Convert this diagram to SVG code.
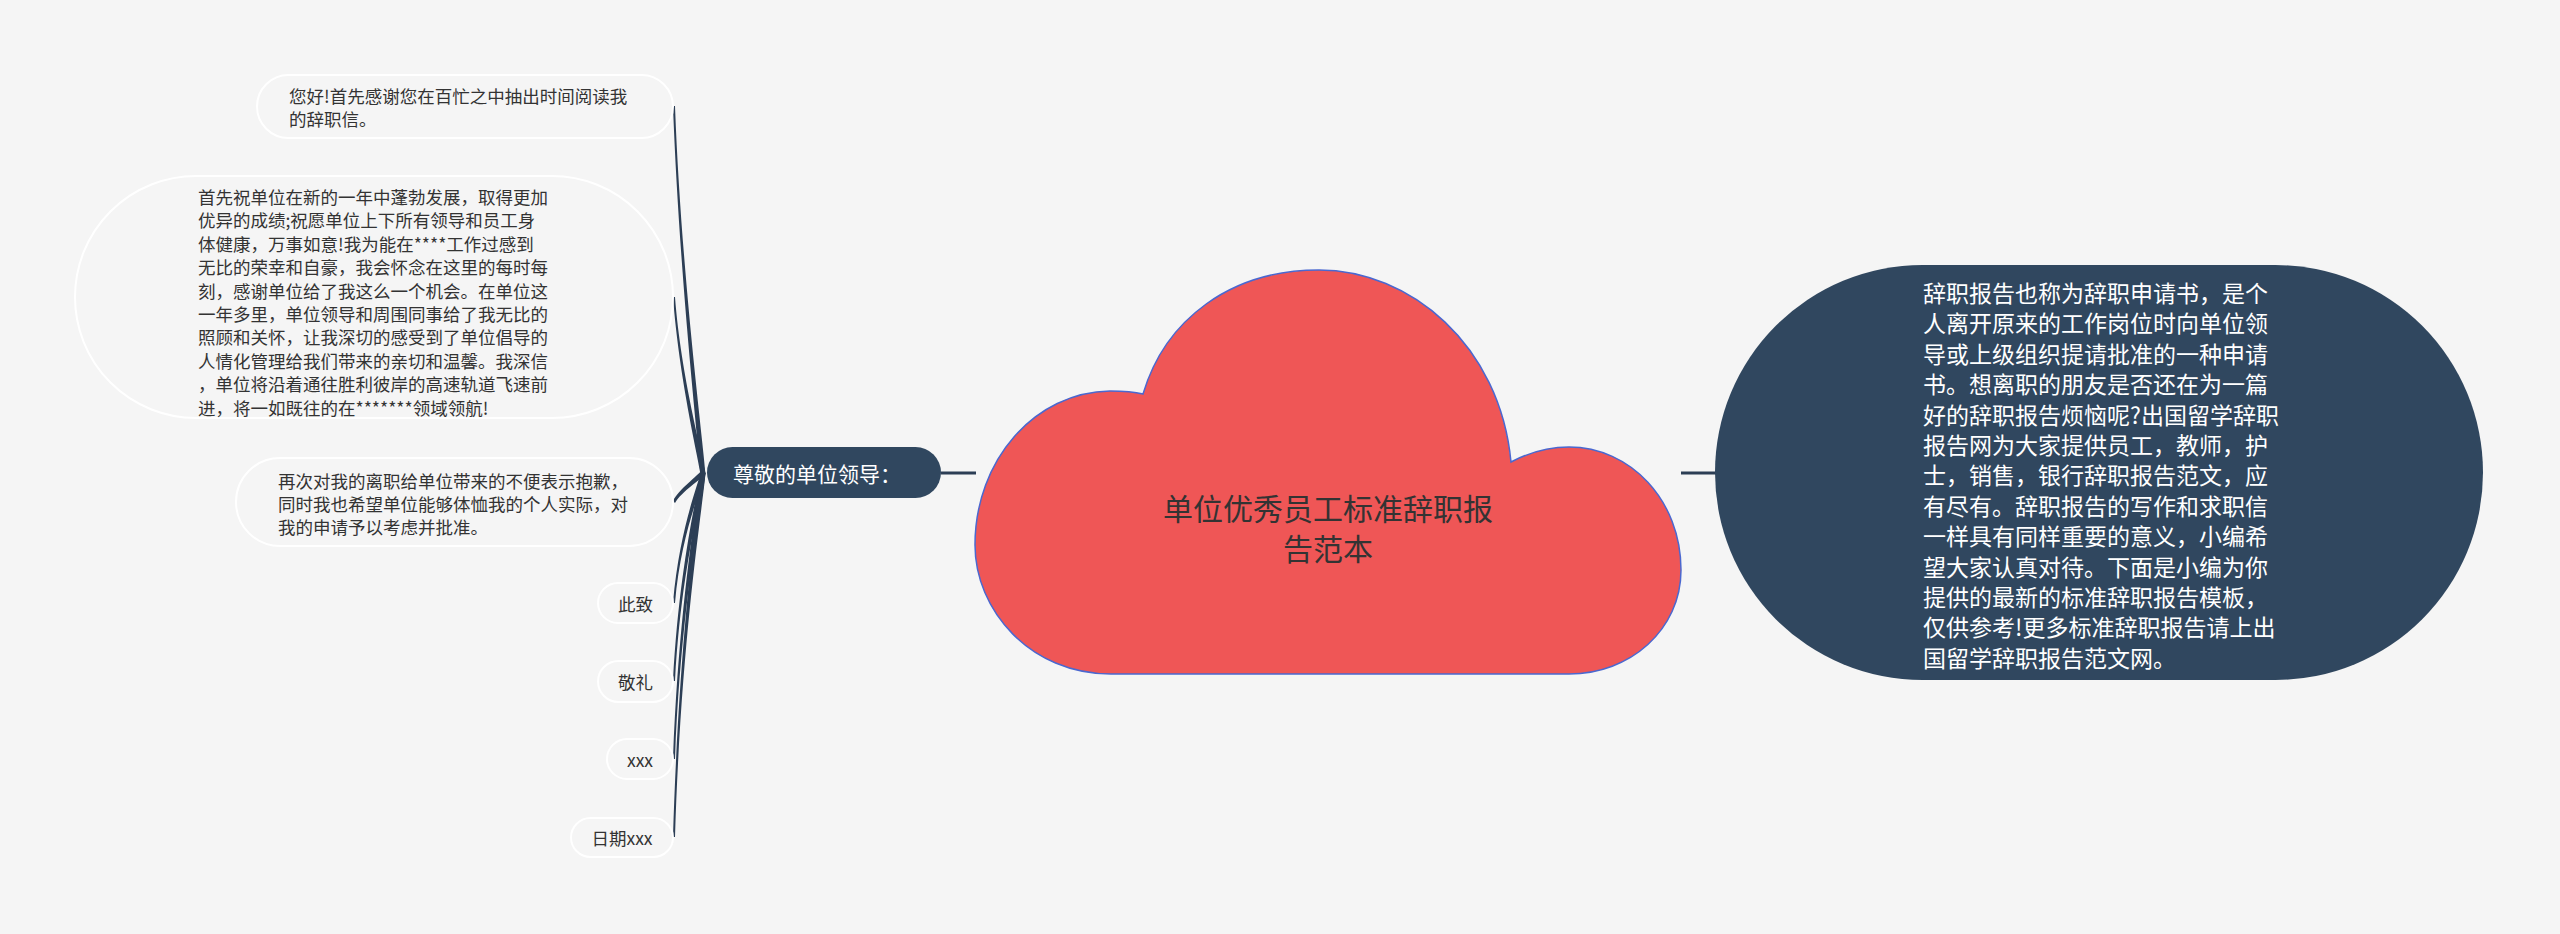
<svg xmlns="http://www.w3.org/2000/svg" width="2560" height="934" viewBox="0 0 2560 934">
<style>
.bg{fill:#f5f5f5}
.leaf{fill:#f5f5f5;stroke:#ffffff;stroke-width:2}
.lt{font-family:"Noto Sans CJK SC","Noto Sans",sans-serif;font-size:17.5px;fill:#333333;dominant-baseline:central}
.dark{fill:#30475f}
.wt{font-family:"Noto Sans CJK SC","Noto Sans",sans-serif;fill:#ffffff;dominant-baseline:central}
.conn{fill:#2c3e55}
.line{stroke:#2c3e55;stroke-width:3;fill:none}
</style>
<rect class="bg" x="0" y="0" width="2560" height="934"/>
<g id="connectors">
<line class="line" x1="941" y1="473" x2="976" y2="473"/>
<line class="line" x1="1681" y1="473" x2="1716" y2="473"/>
<path class="conn" d="M673,106 C679,270 697.5,436 700.5,473 L705.5,473 C702.5,436 681,270 675,106 Z"/>
<path class="conn" d="M673,297 C679,376 697.5,455 700.5,473 L705.5,473 C702.5,455 681,376 675,297 Z"/>
<path class="conn" d="M673,501 C679,489 697.5,476 701,471 L705,475 C702.5,478 681,492 675,503 Z"/>
<path class="conn" d="M673,603 C679,532 697.5,486 700.5,473 L705.5,473 C702.5,486 681,532 675,603 Z"/>
<path class="conn" d="M673,681 C679,567 697.5,494 700.5,473 L705.5,473 C702.5,494 681,567 675,681 Z"/>
<path class="conn" d="M673,759 C679,602 697.5,502 700.5,473 L705.5,473 C702.5,502 681,602 675,759 Z"/>
<path class="conn" d="M673,837 C679,637 697.5,509 700.5,473 L705.5,473 C702.5,509 681,637 675,837 Z"/>
</g>
<g id="root">
<path d="M1111,674 C1030,674 975,610 975,545 C975,460 1035,392 1110,391 C1125,391 1135,392 1143,394 C1165,320 1230,270 1319,270 C1410,270 1500,345 1511,462 C1530,452 1550,447 1569,447 C1630,447 1681,500 1681,570 C1681,630 1630,674 1569,674 Z" fill="#ef5656" stroke="#4a68d0" stroke-width="1.5"/>
<text font-family="'Noto Sans CJK SC','Noto Sans',sans-serif" font-size="30" fill="#333333" text-anchor="middle" dominant-baseline="central"><tspan x="1328" y="507">单位优秀员工标准辞职报</tspan><tspan x="1328" y="547">告范本</tspan></text>
</g>
<g id="main-left">
<rect class="dark" x="707" y="447" width="234" height="51" rx="25.5"/>
<text class="wt" font-size="21" x="733" y="473">尊敬的单位领导：</text>
</g>
<g id="main-right">
<rect class="dark" x="1715" y="265" width="768" height="415" rx="207.5"/>
<text class="wt" font-size="23">
<tspan x="1923" y="292">辞职报告也称为辞职申请书，是个</tspan>
<tspan x="1923" y="322.4">人离开原来的工作岗位时向单位领</tspan>
<tspan x="1923" y="352.8">导或上级组织提请批准的一种申请</tspan>
<tspan x="1923" y="383.2">书。想离职的朋友是否还在为一篇</tspan>
<tspan x="1923" y="413.6">好的辞职报告烦恼呢?出国留学辞职</tspan>
<tspan x="1923" y="444">报告网为大家提供员工，教师，护</tspan>
<tspan x="1923" y="474.4">士，销售，银行辞职报告范文，应</tspan>
<tspan x="1923" y="504.8">有尽有。辞职报告的写作和求职信</tspan>
<tspan x="1923" y="535.2">一样具有同样重要的意义，小编希</tspan>
<tspan x="1923" y="565.6">望大家认真对待。下面是小编为你</tspan>
<tspan x="1923" y="596">提供的最新的标准辞职报告模板，</tspan>
<tspan x="1923" y="626.4">仅供参考!更多标准辞职报告请上出</tspan>
<tspan x="1923" y="656.8">国留学辞职报告范文网。</tspan>
</text>
</g>
<g id="leaf1">
<rect class="leaf" x="257" y="75" width="416" height="63" rx="31.5"/>
<text class="lt"><tspan x="289" y="94.5">您好!首先感谢您在百忙之中抽出时间阅读我</tspan><tspan x="289" y="117.9">的辞职信。</tspan></text>
</g>
<g id="leaf2">
<rect class="leaf" x="75" y="176" width="598" height="242" rx="121"/>
<text class="lt">
<tspan x="198" y="196">首先祝单位在新的一年中蓬勃发展，取得更加</tspan>
<tspan x="198" y="219.4">优异的成绩;祝愿单位上下所有领导和员工身</tspan>
<tspan x="198" y="242.8">体健康，万事如意!我为能在****工作过感到</tspan>
<tspan x="198" y="266.2">无比的荣幸和自豪，我会怀念在这里的每时每</tspan>
<tspan x="198" y="289.6">刻，感谢单位给了我这么一个机会。在单位这</tspan>
<tspan x="198" y="313">一年多里，单位领导和周围同事给了我无比的</tspan>
<tspan x="198" y="336.4">照顾和关怀，让我深切的感受到了单位倡导的</tspan>
<tspan x="198" y="359.8">人情化管理给我们带来的亲切和温馨。我深信</tspan>
<tspan x="198" y="383.2">，单位将沿着通往胜利彼岸的高速轨道飞速前</tspan>
<tspan x="198" y="406.6">进，将一如既往的在*******领域领航!</tspan>
</text>
</g>
<g id="leaf3">
<rect class="leaf" x="236" y="458" width="437" height="88" rx="44"/>
<text class="lt"><tspan x="278" y="480">再次对我的离职给单位带来的不便表示抱歉，</tspan><tspan x="278" y="503">同时我也希望单位能够体恤我的个人实际，对</tspan><tspan x="278" y="526">我的申请予以考虑并批准。</tspan></text>
</g>
<g id="leaf4">
<rect class="leaf" x="598" y="583" width="75" height="40" rx="20"/>
<text class="lt" x="635.5" y="603" text-anchor="middle">此致</text>
</g>
<g id="leaf5">
<rect class="leaf" x="598" y="661" width="75" height="41" rx="20.5"/>
<text class="lt" x="635.5" y="681" text-anchor="middle">敬礼</text>
</g>
<g id="leaf6">
<rect class="leaf" x="607" y="739" width="66" height="40" rx="20"/>
<text class="lt" x="640" y="759" text-anchor="middle">xxx</text>
</g>
<g id="leaf7">
<rect class="leaf" x="571" y="818" width="102" height="39" rx="19.5"/>
<text class="lt" x="622" y="837" text-anchor="middle">日期xxx</text>
</g>
</svg>
